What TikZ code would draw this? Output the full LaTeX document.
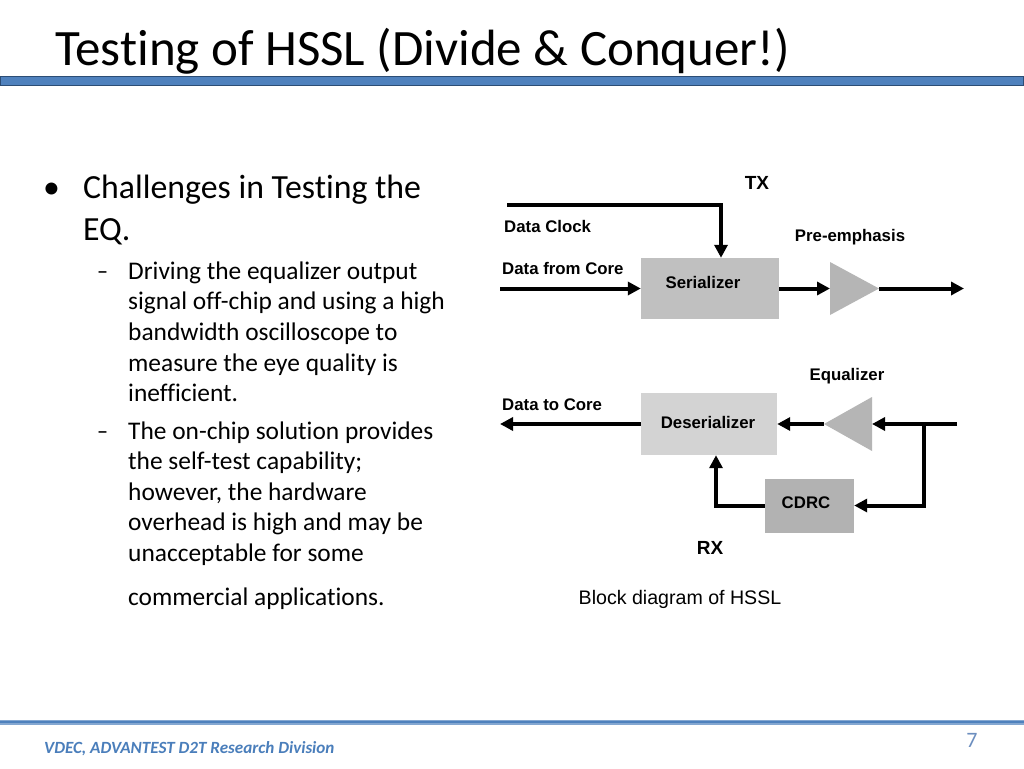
\documentclass[tikz,border=0pt]{standalone}
\usepackage{fontspec}
\setmainfont{Carlito}[Ligatures=NoCommon]
\newfontfamily\arialf{Liberation Sans}
\usetikzlibrary{arrows.meta}
\definecolor{barblue}{HTML}{4F81BD}
\definecolor{bardark}{HTML}{2C4D75}
\definecolor{footblue}{HTML}{4A7EBB}
\definecolor{pgnum}{HTML}{6C8EBF}
\definecolor{serfill}{HTML}{C0C0C0}
\definecolor{desfill}{HTML}{D3D3D3}
\definecolor{cdrfill}{HTML}{B2B2B2}
\definecolor{ampfill}{HTML}{B5B5B5}
\begin{document}
\begin{tikzpicture}[x=1pt,y=-1pt,
  wire/.style={line width=4pt},
  arr/.style={line width=4pt,-{Triangle[length=13pt,width=13pt]}},
  blk/.style={draw=none,rectangle,inner sep=0pt},
  body/.style={anchor=base west,inner sep=0pt,font=\fontsize{25.4}{30}\selectfont},
  head/.style={anchor=base west,inner sep=0pt,font=\fontsize{33.8}{40}\selectfont},
  dlab/.style={inner sep=0pt,font=\arialf\bfseries\fontsize{16.8}{20}\selectfont},
  big/.style={inner sep=0pt,font=\arialf\bfseries\fontsize{19}{22}\selectfont}]
\useasboundingbox (0,0) rectangle (1024,768);
\fill[white] (0,0) rectangle (1024,768);
% title
\node[anchor=base west,inner sep=0pt,font=\fontsize{51}{60}\selectfont] (title) at (55,65) {Testing of HSSL (Divide \& Conquer!)};
\draw[bardark,line width=0.8pt,fill=barblue] (0,76) rectangle (1023,85.5);
% bullets
\node[head] (b1) at (43,198) {\textbullet};
\node[head] (t1) at (83,198) {Challenges in Testing the};
\node[head] (t2) at (83,240) {EQ.};
\node[body] (d1) at (97,279) {\resizebox{11pt}{\height}{–}};
\node[body] (s1) at (128,279) {Driving the equalizer output};
\node[body] (s2) at (128,309) {signal off-chip and using a high};
\node[body] (s3) at (128,340) {bandwidth oscilloscope to};
\node[body] (s4) at (128,371) {measure the eye quality is};
\node[body] (s5) at (128,401) {inefficient.};
\node[body] (d2) at (97,439) {\resizebox{11pt}{\height}{–}};
\node[body] (s6) at (128,439) {The on-chip solution provides};
\node[body] (s7) at (128,469) {the self-test capability;};
\node[body] (s8) at (128,500) {however, the hardware};
\node[body] (s9) at (128,530) {overhead is high and may be};
\node[body] (s10) at (128,561) {unacceptable for some};
\node[body] (s11) at (128,605) {commercial applications.};
% TX part
\node[big] (tx) at (757,183) {TX};
\node[dlab,anchor=base west] (dclab) at (504,232) {Data Clock};
\node[dlab,anchor=base west] (dflab) at (502,274) {Data from Core};
\node[dlab] (pelab) at (850,237) {Pre-emphasis};
\node[blk,fill=serfill,minimum width=138pt,minimum height=61pt] (ser) at (710,288.5) {};
\node[dlab] (sert) at (703,282) {Serializer};
\coordinate (pel) at (830,288.5);
\coordinate (pet) at (830,262);
\coordinate (peb) at (830,315);
\coordinate (pe) at (879,288.5);
\fill[ampfill] (pet) -- (pe) -- (peb) -- cycle;
\coordinate (dc) at (507,205);
\coordinate (dfc) at (500,288.5);
\coordinate (txout) at (964,288.5);
\draw[arr] (dc) -| ([xshift=11pt]ser.north);
\draw[arr] (dfc) -- (ser.west);
\draw[arr] (ser.east) -- (pel);
\draw[arr] (pe) -- (txout);
% RX part
\node[dlab] (eqlab) at (847,376) {Equalizer};
\node[dlab,anchor=base west] (dtlab) at (502,410) {Data to Core};
\node[blk,fill=desfill,minimum width=136pt,minimum height=62pt] (des) at (709,424) {};
\node[dlab] (dest) at (708,422) {Deserializer};
\node[blk,fill=cdrfill,minimum width=89pt,minimum height=54pt] (cdrc) at (809.5,505.5) {};
\node[dlab] (cdrct) at (806,503) {CDRC};
\node[big] (rx) at (710,548) {RX};
\coordinate (eqr) at (872,424);
\coordinate (eqt) at (872,397);
\coordinate (eqb) at (872,451);
\coordinate (eq) at (824,424);
\fill[ampfill] (eqt) -- (eq) -- (eqb) -- cycle;
\coordinate (rxin) at (957,424);
\coordinate (br) at (924,424);
\coordinate (dtc) at (500,424);
\draw[arr] (rxin) -- (eqr);
\draw[arr] (br) |- (cdrc.east);
\draw[arr] (cdrc.west) -| ([xshift=7pt]des.south);
\draw[arr] (eq) -- (des.east);
\draw[arr] (des.west) -- (dtc);
\node[inner sep=0pt,font=\arialf\fontsize{19.6}{22}\selectfont] (cap) at (680,599) {Block diagram of HSSL};
% footer
\draw[barblue!70,line width=5pt] (0,722) -- (1024,722);
\draw[barblue,line width=2.5pt] (0,722) -- (1024,722);
\node[anchor=base west,inner sep=0pt,text=footblue,font=\bfseries\itshape\fontsize{17.1}{22}\selectfont] (foot) at (44,753) {VDEC, ADVANTEST D2T Research Division};
\node[inner sep=0pt,text=pgnum,font=\fontsize{22}{26}\selectfont] (pg) at (972,740) {7};
\end{tikzpicture}
\end{document}
